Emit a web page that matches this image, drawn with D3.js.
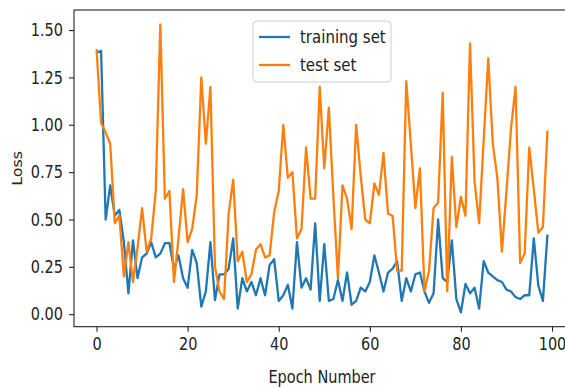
<!DOCTYPE html>
<html>
<head>
<meta charset="utf-8">
<script src="https://cdn.jsdelivr.net/npm/d3@7"></script>
<style>
  body { margin: 0; background: #fff; }
  svg { display: block; font-family: 'DejaVu Sans', sans-serif; }
  /* the reference picture is slightly stretched vertically */
  .tall { transform-box: fill-box; transform-origin: center; transform: scaleY(1.22); }
</style>
</head>
<body>
<svg id="chart" width="565" height="388"></svg>
<script>
// loss per epoch (epochs 0..99)
const trainLoss = [
  1.38, 1.39, 0.50, 0.68, 0.52, 0.55, 0.38, 0.11, 0.39, 0.19,
  0.30, 0.32, 0.38, 0.30, 0.32, 0.375, 0.375, 0.24, 0.31, 0.19,
  0.14, 0.34, 0.27, 0.04, 0.12, 0.38, 0.075, 0.21, 0.21, 0.24,
  0.40, 0.03, 0.19, 0.12, 0.17, 0.10, 0.19, 0.10, 0.26, 0.29,
  0.07, 0.10, 0.155, 0.03, 0.38, 0.14, 0.19, 0.13, 0.48, 0.07,
  0.37, 0.07, 0.08, 0.18, 0.07, 0.22, 0.05, 0.07, 0.14, 0.12,
  0.17, 0.31, 0.22, 0.12, 0.22, 0.24, 0.28, 0.07, 0.19, 0.12,
  0.21, 0.22, 0.12, 0.06, 0.11, 0.50, 0.19, 0.17, 0.39, 0.08,
  0.01, 0.16, 0.11, 0.14, 0.03, 0.28, 0.22, 0.20, 0.18, 0.17,
  0.13, 0.12, 0.09, 0.08, 0.10, 0.10, 0.40, 0.15, 0.07, 0.42
];
const testLoss = [
  1.40, 1.01, 0.96, 0.90, 0.48, 0.52, 0.20, 0.38, 0.17, 0.35,
  0.56, 0.33, 0.40, 0.65, 1.53, 0.61, 0.65, 0.17, 0.40, 0.66,
  0.38, 0.45, 0.63, 1.25, 0.90, 1.20, 0.25, 0.12, 0.08, 0.53,
  0.71, 0.28, 0.33, 0.17, 0.21, 0.34, 0.37, 0.30, 0.31, 0.54,
  0.65, 1.00, 0.72, 0.75, 0.40, 0.45, 0.88, 0.61, 0.61, 1.20,
  0.77, 1.09, 0.62, 0.19, 0.68, 0.61, 0.45, 1.00, 0.73, 0.50,
  0.48, 0.69, 0.63, 0.85, 0.53, 0.52, 0.23, 0.23, 1.23, 0.90,
  0.56, 0.77, 0.12, 0.23, 0.56, 0.59, 1.17, 0.12, 0.83, 0.46,
  0.62, 0.52, 1.43, 0.70, 0.48, 0.92, 1.35, 0.90, 0.72, 0.33,
  0.65, 0.98, 1.20, 0.27, 0.32, 0.88, 0.66, 0.43, 0.46, 0.97
];
const seriesNames = ['training set', 'test set'];
const xTicks = [0, 20, 40, 60, 80, 100];
const yTicks = [0, 0.25, 0.5, 0.75, 1.0, 1.25, 1.5];

const COLORS = ['#1f77b4', '#ff7f0e'];
const FONT = 14.5;

const svg = d3.select('#chart');

// plot box (right edge falls just past the picture, as in the reference)
const plotLeft = 74, plotTop = 10, plotRight = 570, plotBottom = 326.7;

// matplotlib-style 5% margins around the data
const n = trainLoss.length;
const xPad = (n - 1) * 0.05;
const allVals = trainLoss.concat(testLoss);
const yMin = d3.min(allVals), yMax = d3.max(allVals);
const yPad = (yMax - yMin) * 0.05;

const x = d3.scaleLinear()
  .domain([-xPad, n - 1 + xPad])
  .range([plotLeft, plotRight]);

const y = d3.scaleLinear()
  .domain([yMin - yPad, yMax + yPad])
  .range([plotBottom, plotTop]);

// Lines
const line = d3.line()
  .x((d, i) => x(i))
  .y(d => y(d));

[trainLoss, testLoss].forEach((series, k) => {
  svg.append('path')
    .datum(series)
    .attr('fill', 'none')
    .attr('stroke', COLORS[k])
    .attr('stroke-width', 2.3)
    .attr('stroke-linejoin', 'round')
    .attr('d', line);
});

// Axes
const xAxis = d3.axisBottom(x)
  .tickValues(xTicks)
  .tickFormat(d3.format('d'))
  .tickSize(5)
  .tickPadding(7)
  .tickSizeOuter(0);

const yAxis = d3.axisLeft(y)
  .tickValues(yTicks)
  .tickFormat(d3.format('.2f'))
  .tickSize(5)
  .tickPadding(6)
  .tickSizeOuter(0);

const gx = svg.append('g')
  .attr('transform', `translate(0, ${plotBottom})`)
  .call(xAxis);

const gy = svg.append('g')
  .attr('transform', `translate(${plotLeft}, 0)`)
  .call(yAxis);

[gx, gy].forEach(g => {
  g.select('.domain').remove();
  g.selectAll('line').attr('stroke', '#222').attr('stroke-width', 1.1);
  g.selectAll('text')
    .attr('class', 'tall')
    .attr('fill', '#222')
    .style('font-size', FONT + 'px')
    .style('font-family', 'DejaVu Sans, sans-serif');
});

// Spines
svg.append('rect')
  .attr('x', plotLeft)
  .attr('y', plotTop)
  .attr('width', plotRight - plotLeft)
  .attr('height', plotBottom - plotTop)
  .attr('fill', 'none')
  .attr('stroke', '#222')
  .attr('stroke-width', 1.1);

// Axis labels
svg.append('text')
  .attr('class', 'tall')
  .attr('x', (plotLeft + plotRight) / 2)
  .attr('y', 382)
  .attr('text-anchor', 'middle')
  .attr('fill', '#222')
  .style('font-size', FONT + 'px')
  .text('Epoch Number');

svg.append('text')
  .attr('transform', `translate(22, ${(plotTop + plotBottom) / 2}) rotate(-90) scale(1.1, 1)`)
  .attr('text-anchor', 'middle')
  .attr('fill', '#222')
  .style('font-size', FONT + 'px')
  .text('Loss');

// Legend
const legend = svg.append('g').attr('transform', 'translate(253, 21)');

legend.append('rect')
  .attr('width', 138)
  .attr('height', 61)
  .attr('rx', 4)
  .attr('fill', '#fff')
  .attr('fill-opacity', 0.8)
  .attr('stroke', '#ccc');

seriesNames.forEach((name, k) => {
  const ly = 16 + k * 28;
  legend.append('line')
    .attr('x1', 6).attr('x2', 37)
    .attr('y1', ly).attr('y2', ly)
    .attr('stroke', COLORS[k])
    .attr('stroke-width', 2.3);
  legend.append('text')
    .attr('class', 'tall')
    .attr('x', 47)
    .attr('y', ly)
    .attr('dy', '0.35em')
    .attr('fill', '#222')
    .style('font-size', '15px')
    .text(name);
});
</script>
</body>
</html>
